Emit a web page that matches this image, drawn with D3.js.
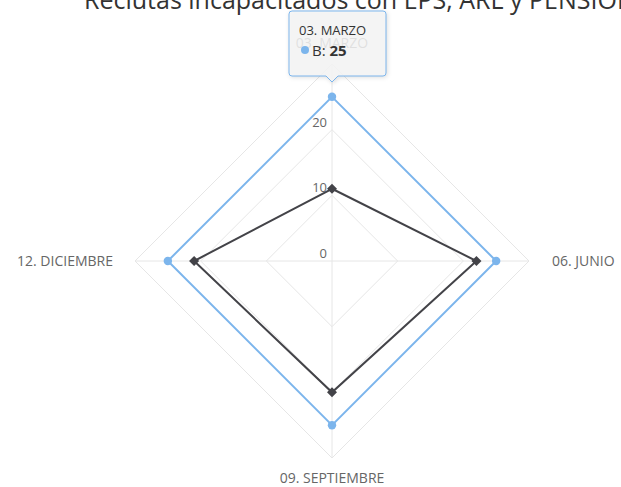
<!DOCTYPE html>
<html>
<head>
<meta charset="utf-8">
<script src="https://cdnjs.cloudflare.com/ajax/libs/d3/7.8.5/d3.min.js"></script>
<style>
  html, body { margin: 0; padding: 0; background: #fff; overflow: hidden; }
  svg { display: block; font-family: "Open Sans", "DejaVu Sans", sans-serif; }
</style>
</head>
<body>
<div id="chart"></div>
<script>
// data
var categories = ["03. MARZO", "06. JUNIO", "09. SEPTIEMBRE", "12. DICIEMBRE"];
var seriesNames = ["A", "B"];
var seriesA = [11, 22, 20, 21];
var seriesB = [25, 25, 25, 25];
var yTicks = [0, 10, 20, 30];
var yTickLabels = ["0", "10", "20"];
var chartTitle = "Reclutas incapacitados con EPS, ARL y PENSIONADOS";

var width = 621, height = 487;
var cx = 332, cy = 261, outerR = 197;
var colors = ["#434348", "#7cb5ec"];

var svg = d3.select("#chart").append("svg")
    .attr("width", width)
    .attr("height", height);

//////// SCALES ////////
var rScale = d3.scaleLinear()
    .domain([0, 30])
    .range([0, outerR]);

var aScale = d3.scaleLinear()
    .domain([0, categories.length])
    .range([0, 2 * Math.PI]);

function pt(i, v) {
    var a = aScale(i), r = rScale(v);
    return [cx + r * Math.sin(a), cy - r * Math.cos(a)];
}

var g = svg.append("g");

//////// GRID ////////
g.append("g").selectAll("polygon")
    .data(yTicks.slice(1))
    .enter().append("polygon")
        .attr("points", function(t) {
            return categories.map(function(c, i) { return pt(i, t).join(","); }).join(" ");
        })
        .attr("fill", "none")
        .attr("stroke", "#e6e6e6")
        .attr("stroke-width", 1);

g.append("g").selectAll("line")
    .data(categories)
    .enter().append("line")
        .attr("x1", cx).attr("y1", cy)
        .attr("x2", function(d, i) { return pt(i, 30)[0]; })
        .attr("y2", function(d, i) { return pt(i, 30)[1]; })
        .attr("stroke", "#e6e6e6")
        .attr("stroke-width", 1);

// y labels
g.append("g").selectAll("text")
    .data(yTickLabels)
    .enter().append("text")
        .attr("x", cx - 5)
        .attr("y", function(d) { return cy - rScale(+d) - 3; })
        .attr("text-anchor", "end")
        .attr("font-size", 13)
        .attr("fill", "#666666")
        .text(function(d) { return d; });

// category labels
g.append("g").selectAll("text")
    .data(categories)
    .enter().append("text")
        .attr("x", function(d, i) {
            var p = pt(i, 30);
            if (i === 1) return p[0] + 23;
            if (i === 3) return p[0] - 22;
            return p[0];
        })
        .attr("y", function(d, i) {
            var p = pt(i, 30);
            if (i === 0) return p[1] - 16;
            if (i === 2) return p[1] + 25;
            return p[1] + 5;
        })
        .attr("text-anchor", function(d, i) { return i === 1 ? "start" : i === 3 ? "end" : "middle"; })
        .attr("font-size", 14)
        .attr("fill", "#666666")
        .text(function(d) { return d; });

//////// SERIES ////////
var line = d3.line()
    .x(function(d) { return d[0]; })
    .y(function(d) { return d[1]; })
    .curve(d3.curveLinearClosed);

[seriesA, seriesB].forEach(function(s, k) {
    var pts = s.map(function(v, i) { return pt(i, v); });
    g.append("path")
        .attr("d", line(pts))
        .attr("fill", "none")
        .attr("stroke", colors[k])
        .attr("stroke-width", 2);

    var sym = d3.symbol().type(k === 0 ? d3.symbolDiamond2 : d3.symbolCircle).size(k === 0 ? 64 : 56);
    g.append("g").selectAll("path")
        .data(pts)
        .enter().append("path")
            .attr("transform", function(p) { return "translate(" + p[0] + "," + p[1] + ")"; })
            .attr("d", sym)
            .attr("fill", colors[k]);
});

//////// TITLE ////////
svg.append("text")
    .attr("x", 84)
    .attr("y", 9)
    .attr("font-size", 25)
    .attr("fill", "#333333")
    .text(chartTitle);

//////// TOOLTIP ////////
var tip = pt(0, seriesB[0]);
var tx = 289, ty = 11, tw = 97, th = 65;
var tipG = svg.append("g");
tipG.append("path")
    .attr("d", "M" + (tx + 3) + "," + ty +
        " H" + (tx + tw - 3) + " Q" + (tx + tw) + "," + ty + " " + (tx + tw) + "," + (ty + 3) +
        " V" + (ty + th - 3) + " Q" + (tx + tw) + "," + (ty + th) + " " + (tx + tw - 3) + "," + (ty + th) +
        " H" + (tip[0] + 6) + " L" + tip[0] + "," + (ty + th + 6) + " L" + (tip[0] - 6) + "," + (ty + th) +
        " H" + (tx + 3) + " Q" + tx + "," + (ty + th) + " " + tx + "," + (ty + th - 3) +
        " V" + (ty + 3) + " Q" + tx + "," + ty + " " + (tx + 3) + "," + ty + "Z")
    .attr("fill", "rgba(247,247,247,0.85)")
    .attr("stroke", colors[1])
    .attr("stroke-width", 1)
    .style("filter", "drop-shadow(1px 1px 2px rgba(0,0,0,0.15))");

tipG.append("text")
    .attr("x", tx + 10)
    .attr("y", ty + 24)
    .attr("font-size", 13)
    .attr("fill", "#333333")
    .text(categories[0]);

tipG.append("circle")
    .attr("cx", tx + 16)
    .attr("cy", ty + 39)
    .attr("r", 4)
    .attr("fill", colors[1]);

var line2 = tipG.append("text")
    .attr("x", tx + 23)
    .attr("y", ty + 45)
    .attr("font-size", 15)
    .attr("fill", "#333333");
line2.append("tspan").text(seriesNames[1] + ": ");
line2.append("tspan").attr("font-weight", "bold").text(seriesB[0]);
</script>
</body>
</html>
